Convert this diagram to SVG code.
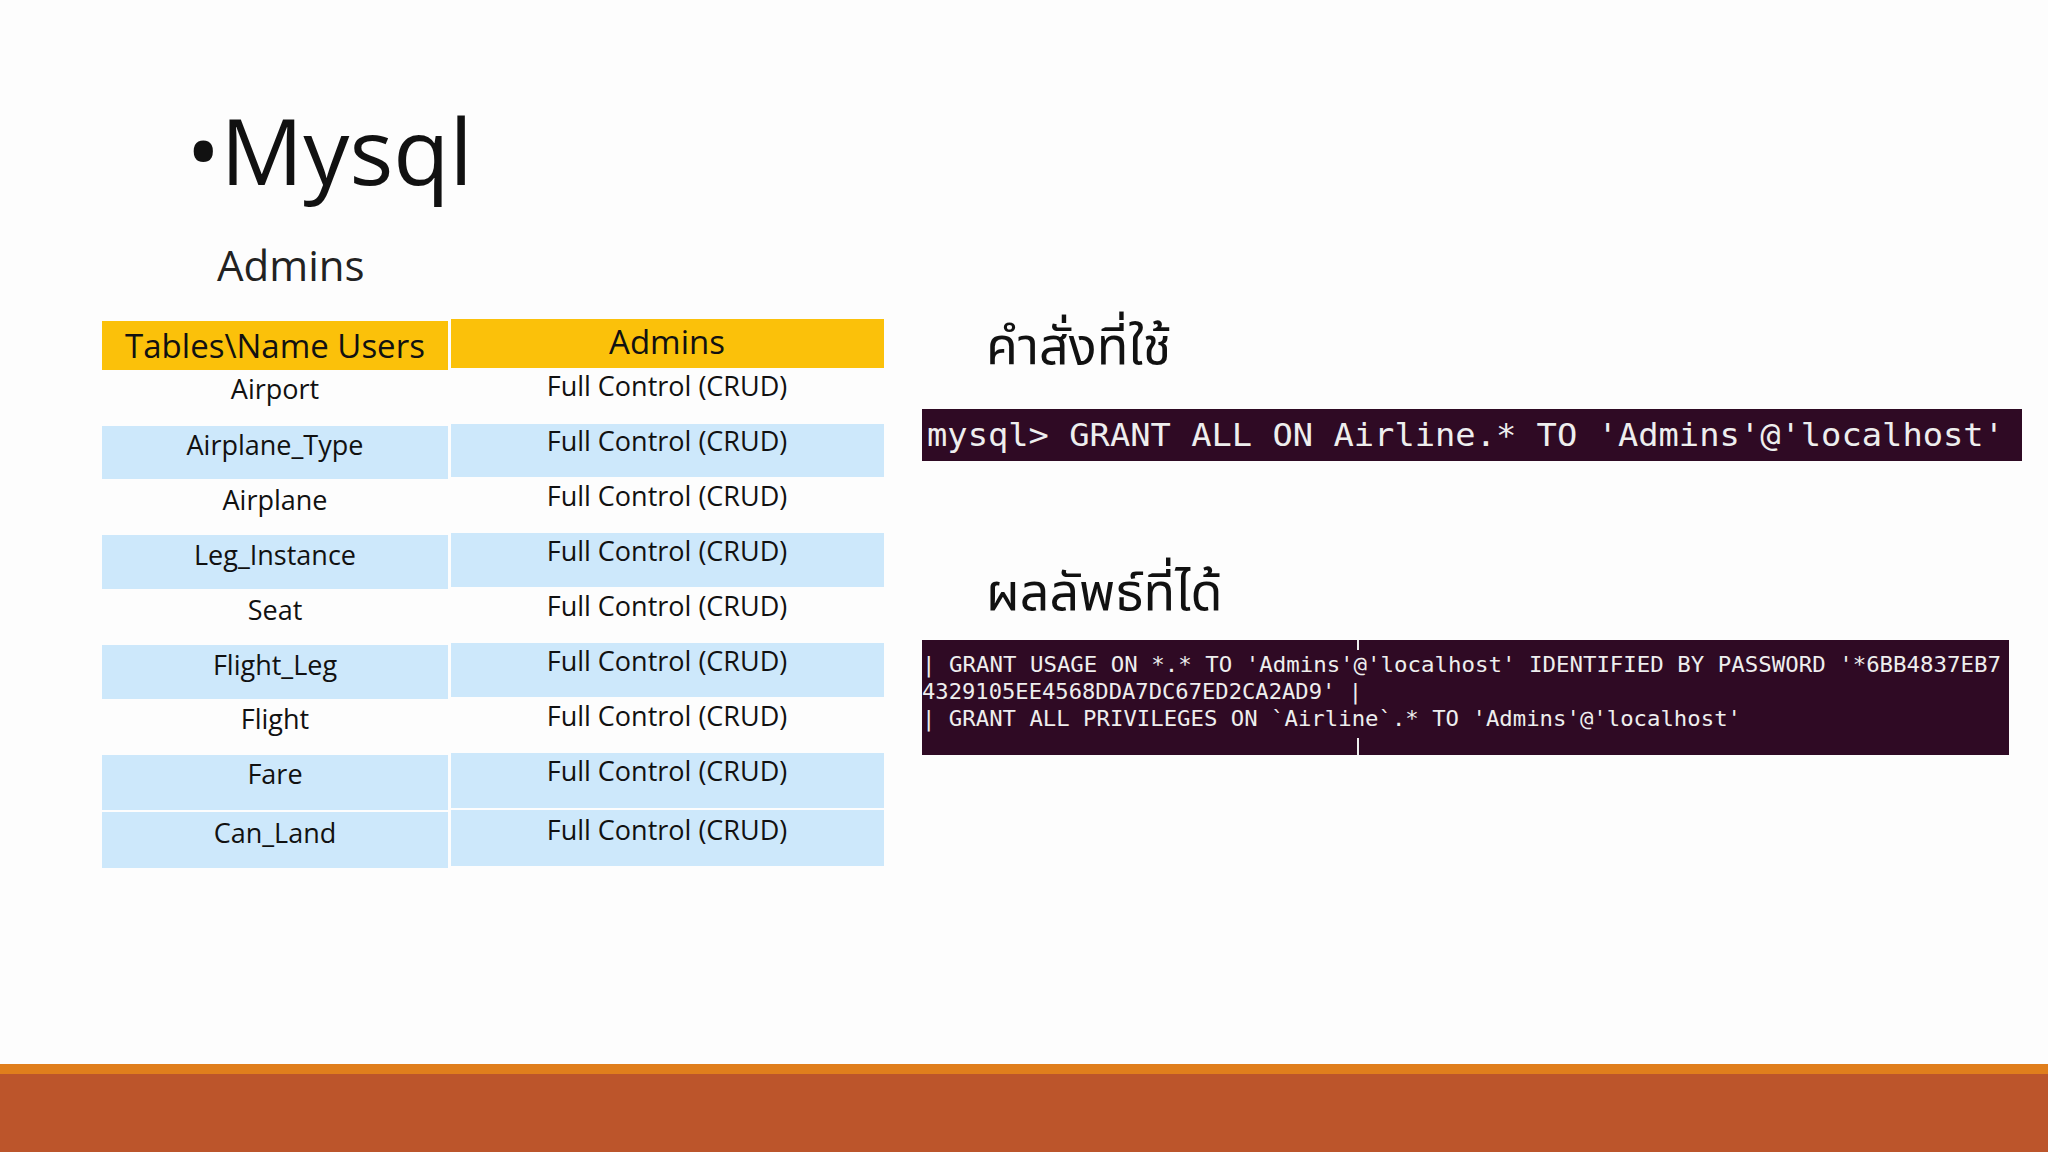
<svg xmlns="http://www.w3.org/2000/svg" width="2048" height="1152" viewBox="0 0 2048 1152">
<style>
.c{font-family:"Open Sans","Noto Sans",sans-serif;font-size:27px;fill:#111;text-anchor:middle}
.h{font-family:"Open Sans","Noto Sans",sans-serif;font-size:33px;fill:#111;text-anchor:middle}
.b{fill:#cde8fb}
.m{font-family:"DejaVu Sans Mono","Liberation Mono",monospace;fill:#eee}
.th{font-family:"Noto Sans Thai","Noto Sans","DejaVu Sans",sans-serif;font-size:52px;fill:#111}
</style>
<rect width="2048" height="1152" fill="#fdfdfd"/>
<g id="title"><text x="186" y="185" font-family="Open Sans,Noto Sans,sans-serif" font-size="92" fill="#111">•Mysql</text>
<text x="217" y="281" font-family="Open Sans,Noto Sans,sans-serif" font-size="42" fill="#222">Admins</text></g>
<g id="table">
<rect x="102" y="321" width="346" height="49" fill="#fbc10a"/>
<rect x="451" y="319" width="433" height="49" fill="#fbc10a"/>
<text class="h" x="275" y="358">Tables\Name Users</text>
<text class="h" x="667" y="354">Admins</text>
<g>
<rect class="b" x="102" y="426" width="346" height="53"/><rect class="b" x="451" y="424" width="433" height="53"/>
<rect class="b" x="102" y="535" width="346" height="54"/><rect class="b" x="451" y="533" width="433" height="54"/>
<rect class="b" x="102" y="645" width="346" height="54"/><rect class="b" x="451" y="643" width="433" height="54"/>
<rect class="b" x="102" y="755" width="346" height="55"/><rect class="b" x="451" y="753" width="433" height="55"/>
<rect class="b" x="102" y="812" width="346" height="56"/><rect class="b" x="451" y="810" width="433" height="56"/>
</g>
<text class="c" x="275" y="399">Airport</text>
<text class="c" x="275" y="455">Airplane_Type</text>
<text class="c" x="275" y="510">Airplane</text>
<text class="c" x="275" y="565">Leg_Instance</text>
<text class="c" x="275" y="620">Seat</text>
<text class="c" x="275" y="675">Flight_Leg</text>
<text class="c" x="275" y="729">Flight</text>
<text class="c" x="275" y="784">Fare</text>
<text class="c" x="275" y="843">Can_Land</text>
<text class="c" x="667" y="396">Full Control  (CRUD)</text>
<text class="c" x="667" y="451">Full Control  (CRUD)</text>
<text class="c" x="667" y="506">Full Control  (CRUD)</text>
<text class="c" x="667" y="561">Full Control  (CRUD)</text>
<text class="c" x="667" y="616">Full Control  (CRUD)</text>
<text class="c" x="667" y="671">Full Control  (CRUD)</text>
<text class="c" x="667" y="726">Full Control  (CRUD)</text>
<text class="c" x="667" y="781">Full Control  (CRUD)</text>
<text class="c" x="667" y="840">Full Control  (CRUD)</text>
</g>
<g id="cmd">
<text class="th" x="986" y="364">คำสั่งที่ใช้</text>
<rect x="922" y="409" width="1100" height="52" fill="#2f0a24"/>
<text class="m" x="927" y="446" font-size="32" textLength="1077" lengthAdjust="spacingAndGlyphs">mysql&gt; GRANT ALL ON Airline.* TO 'Admins'@'localhost'</text>
</g>
<g id="result">
<text class="th" x="986" y="610">ผลลัพธ์ที่ได้</text>
<rect x="922" y="640" width="1087" height="115" fill="#2f0a24"/>
<line x1="1358" y1="640" x2="1358" y2="650" stroke="#eee" stroke-width="2"/>
<line x1="1358" y1="738" x2="1358" y2="755" stroke="#eee" stroke-width="2"/>
<text class="m" x="922" y="672" font-size="22" textLength="1079" lengthAdjust="spacingAndGlyphs">| GRANT USAGE ON *.* TO 'Admins'@'localhost' IDENTIFIED BY PASSWORD '*6BB4837EB7</text>
<text class="m" x="922" y="699" font-size="22" textLength="440" lengthAdjust="spacingAndGlyphs">4329105EE4568DDA7DC67ED2CA2AD9' |</text>
<text class="m" x="922" y="726" font-size="22" textLength="819" lengthAdjust="spacingAndGlyphs">| GRANT ALL PRIVILEGES ON `Airline`.* TO 'Admins'@'localhost'</text>
</g>
<rect x="0" y="1064" width="2048" height="10" fill="#e07e1c"/>
<rect x="0" y="1074" width="2048" height="78" fill="#bc552b"/>
</svg>
